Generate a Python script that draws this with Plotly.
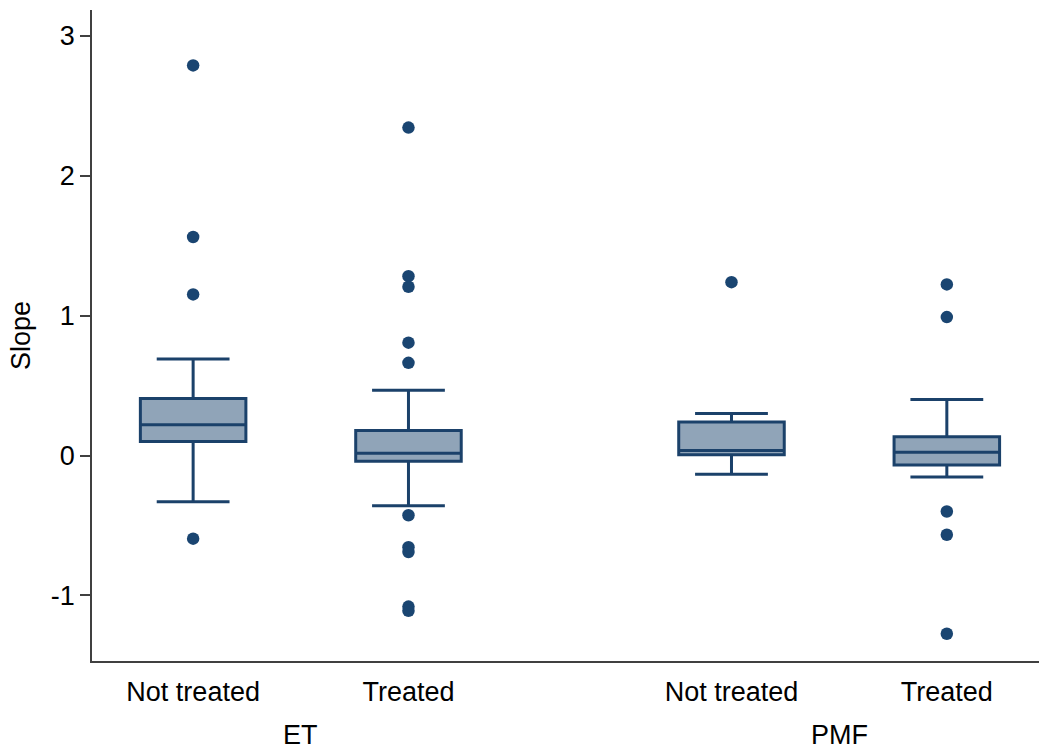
import plotly.graph_objects as go

# ---- data ----
groups = ["ET", "ET", "PMF", "PMF"]
categories = ["Not treated", "Treated", "Not treated", "Treated"]
positions = [1, 2, 3.5, 4.5]
group_labels = ["ET", "PMF"]
group_centers = [1.5, 4.0]

q1 = [0.10, -0.04, 0.005, -0.067]
median = [0.22, 0.017, 0.036, 0.024]
q3 = [0.408, 0.179, 0.24, 0.134]
lowerfence = [-0.33, -0.358, -0.134, -0.153]
upperfence = [0.69, 0.467, 0.30, 0.40]

outliers = [
    [2.79, 1.563, 1.152, -0.594],
    [2.345, 1.283, 1.207, 0.807, 0.663, -0.427, -0.655, -0.69, -1.08, -1.11],
    [1.24],
    [1.224, 0.99, -0.40, -0.566, -1.274],
]

y_ticks = [-1, 0, 1, 2, 3]
y_ticktext = ["-1", "0", "1", "2", "3"]

# ---- style ----
LINE = "#1b416a"
FILL = "#90a4b8"
MARK = "#1a4571"
FONT = "Liberation Sans, Arial, sans-serif"

fig = go.Figure()
fig.add_trace(go.Box(
    x=positions, q1=q1, median=median, q3=q3,
    lowerfence=lowerfence, upperfence=upperfence,
    width=0.49, whiskerwidth=0.69,
    fillcolor=FILL, line=dict(color=LINE, width=3),
    boxpoints=False, showlegend=False, hoverinfo="skip",
))

ox, oy = [], []
for p, vals in zip(positions, outliers):
    for v in vals:
        ox.append(p)
        oy.append(v)
fig.add_trace(go.Scatter(
    x=ox, y=oy, mode="markers",
    marker=dict(color=MARK, size=12.5, line=dict(width=0)),
    showlegend=False, hoverinfo="skip",
))

for lab, c in zip(group_labels, group_centers):
    fig.add_annotation(
        x=c, xref="x", y=0, yref="paper", yanchor="middle",
        yshift=-74, text=lab, showarrow=False,
        font=dict(family=FONT, size=27, color="black"),
    )

fig.update_layout(
    width=1039, height=749,
    margin=dict(l=92, r=0, t=10, b=88),
    paper_bgcolor="white", plot_bgcolor="white",
    font=dict(family=FONT, size=27, color="black"),
)
fig.update_xaxes(
    range=[0.5304, 4.928], tickvals=positions, ticktext=categories,
    showline=True, linecolor="#404040", linewidth=1.6,
    showgrid=False, zeroline=False, ticks="", ticklabelstandoff=6,
    tickfont=dict(family=FONT, size=27, color="black"),
)
fig.update_yaxes(
    range=[-1.469, 3.186], tickvals=y_ticks, ticktext=y_ticktext,
    showline=True, linecolor="#404040", linewidth=1.6,
    showgrid=False, zeroline=False, ticks="outside", ticklen=10,
    tickcolor="#404040", tickwidth=1.6,
    tickfont=dict(family=FONT, size=27, color="black"),
    title=dict(text="Slope", font=dict(family=FONT, size=27, color="black"), standoff=12),
)

fig.write_html("out.html", config={"displayModeBar": False},
               post_script="document.body.style.margin='0';")
